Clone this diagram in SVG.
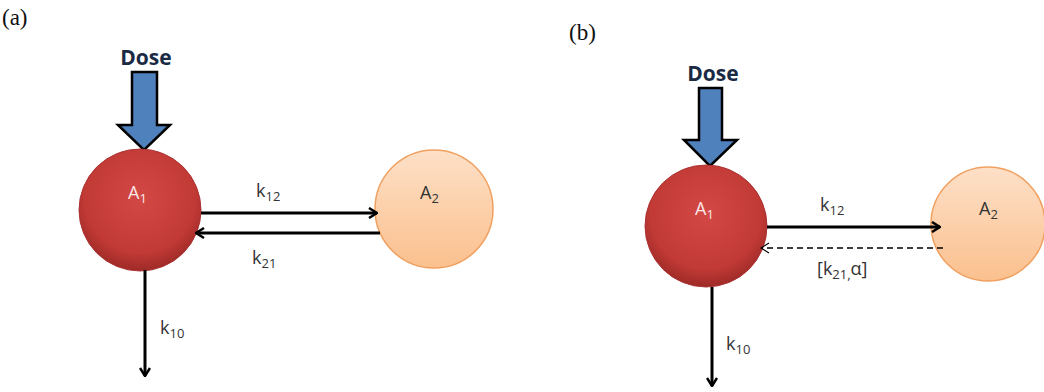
<svg xmlns="http://www.w3.org/2000/svg" width="1044" height="392" viewBox="0 0 1044 392">
<style>
.lbl{font-family:"Liberation Serif","DejaVu Serif",serif;font-size:23px;fill:#111}
.dose{font-family:"Open Sans","Liberation Sans",sans-serif;font-weight:bold;font-size:21px;fill:#1a2a44}
.k{font-family:"Open Sans","Liberation Sans",sans-serif;font-size:18px;fill:#333}
.a1{font-family:"Open Sans","Liberation Sans",sans-serif;font-size:18px;fill:#fbe6e6}
.a2{font-family:"Open Sans","Liberation Sans",sans-serif;font-size:18px;fill:#333}
.sub{font-size:13px}
.ln{stroke:#000;stroke-width:3;fill:none}
.dash{stroke:#000;stroke-width:1.3;fill:none;stroke-dasharray:6,4}
.darrow{fill:#4f81bd;stroke:#000;stroke-width:2.5;stroke-linejoin:miter}
</style>
<defs>
<radialGradient id="gRed" cx="0.5" cy="0.4" r="0.6">
<stop offset="0" stop-color="#d24845"/>
<stop offset="0.75" stop-color="#c23a36"/>
<stop offset="1" stop-color="#9e2a27"/>
</radialGradient>
<linearGradient id="gPeach" x1="0" y1="0" x2="0" y2="1">
<stop offset="0" stop-color="#fde0c7"/>
<stop offset="1" stop-color="#fbc08e"/>
</linearGradient>
<marker id="ah" markerWidth="10" markerHeight="12" refX="9" refY="6" orient="auto" markerUnits="userSpaceOnUse">
<path d="M1,1 L9,6 L1,11" fill="none" stroke="#000" stroke-width="2.5"/>
</marker>
<marker id="ahThin" markerWidth="10" markerHeight="12" refX="9" refY="6" orient="auto" markerUnits="userSpaceOnUse">
<path d="M1,1 L9,6 L1,11" fill="none" stroke="#000" stroke-width="1.2"/>
</marker>
</defs>
<text class="lbl" x="2" y="25">(a)</text>
<text class="lbl" x="569" y="40">(b)</text>
<g id="dose-a">
<text class="dose" x="146" y="65" text-anchor="middle">Dose</text>
<path class="darrow" d="M132,72 H157 V125 H170 L144,150 L118,125 H132 Z"/>
</g>
<g id="A1-a">
<circle cx="140" cy="210" r="61" fill="url(#gRed)" stroke="#a33" stroke-width="1"/>
<text class="a1" x="128" y="199">A<tspan class="sub" dy="4">1</tspan></text>
</g>
<g id="A2-a">
<circle cx="434" cy="209" r="59" fill="url(#gPeach)" stroke="#f0a060" stroke-width="1.5"/>
<text class="a2" x="420" y="199">A<tspan class="sub" dy="4">2</tspan></text>
</g>
<g id="dose-b">
<text class="dose" x="713" y="81" text-anchor="middle">Dose</text>
<path class="darrow" d="M699,88 H722 V140 H737 L710,166 L684,140 H699 Z"/>
</g>
<g id="A1-b">
<circle cx="706" cy="226" r="61" fill="url(#gRed)" stroke="#a33" stroke-width="1"/>
<text class="a1" x="695" y="215">A<tspan class="sub" dy="4">1</tspan></text>
</g>
<g id="A2-b">
<circle cx="988" cy="224" r="57" fill="url(#gPeach)" stroke="#f0a060" stroke-width="1.5"/>
<text class="a2" x="979" y="215">A<tspan class="sub" dy="4">2</tspan></text>
</g>
<g id="connectors">
<line class="ln" x1="201" y1="213" x2="377" y2="213" marker-end="url(#ah)"/>
<line class="ln" x1="380" y1="233" x2="196" y2="233" marker-end="url(#ah)"/>
<line class="ln" x1="145" y1="270" x2="145" y2="376" marker-end="url(#ah)"/>
<line class="ln" x1="767" y1="227" x2="940" y2="227" marker-end="url(#ah)"/>
<line class="dash" x1="943" y1="248" x2="761" y2="248" marker-end="url(#ahThin)"/>
<line class="ln" x1="712" y1="287" x2="712" y2="386" marker-end="url(#ah)"/>
</g>
<g id="labels">
<text class="k" x="256" y="197">k<tspan class="sub" dy="4">12</tspan></text>
<text class="k" x="252" y="264">k<tspan class="sub" dy="4">21</tspan></text>
<text class="k" x="160" y="334">k<tspan class="sub" dy="4">10</tspan></text>
<text class="k" x="820" y="211">k<tspan class="sub" dy="4">12</tspan></text>
<text class="k" x="817" y="275">[k<tspan class="sub" dy="4">21,</tspan><tspan dy="-4">α]</tspan></text>
<text class="k" x="726" y="350">k<tspan class="sub" dy="4">10</tspan></text>
</g>
</svg>
